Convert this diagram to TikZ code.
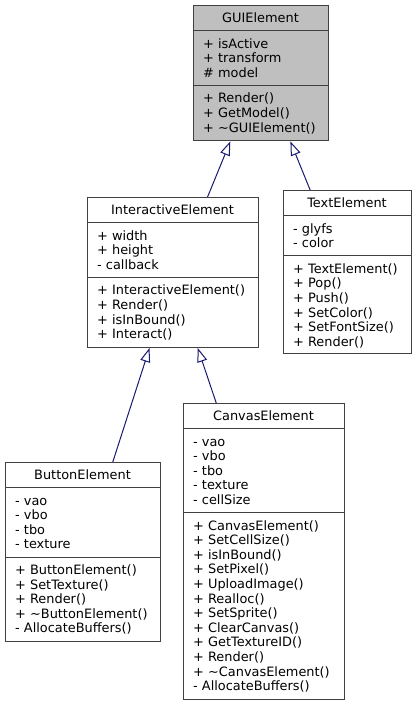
\documentclass[tikz,border=0pt]{standalone}
\usepackage{fontspec}
\setmainfont{DejaVu Sans}
\usetikzlibrary{arrows.meta,calc}
\definecolor{navyedge}{HTML}{191970}
\definecolor{hdrgray}{HTML}{BFBFBF}
\definecolor{boxline}{HTML}{404040}
\newcommand\umlln[4]{\node[ltext] (#1) at (#2,#3) {#4};}
\newcommand\umlttl[4]{\node[ttext] (#1) at (#2,#3) {#4};}
\begin{document}
\begin{tikzpicture}[x=1pt,y=-1pt,
  umlbox/.style={draw=boxline, line width=1.2pt, rectangle, inner sep=0pt, anchor=north west, fill=white},
  divider/.style={draw=boxline, line width=1pt},
  ltext/.style={anchor=base west, inner sep=0pt, font=\fontsize{12.9}{14.6}\selectfont},
  ttext/.style={anchor=base, inner sep=0pt, font=\fontsize{12.9}{14.6}\selectfont},
  inh/.style={draw=navyedge, line width=1pt, -{Triangle[open, fill=white, length=14pt, width=10pt]}}]
\useasboundingbox (0,0) rectangle (416,705);

% GUIElement
\node[umlbox, fill=hdrgray, minimum width=135pt, minimum height=135.2pt] (gui) at (193,5) {};
\draw[divider] (193,30.6) -- (328,30.6);
\draw[divider] (193,85.4) -- (328,85.4);
\umlttl{guiT}{260.5}{22.4}{GUIElement}
\umlln{guiA1}{203}{48.0}{+ isActive}
\umlln{guiA2}{203}{62.6}{+ transform}
\umlln{guiA3}{203}{77.2}{\# model}
\umlln{guiM1}{203}{102.8}{+ Render()}
\umlln{guiM2}{203}{117.4}{+ GetModel()}
\umlln{guiM3}{203}{132.0}{+ \textasciitilde GUIElement()}

% InteractiveElement
\node[umlbox, minimum width=171pt, minimum height=149.8pt] (ie) at (87,197) {};
\draw[divider] (87,222.6) -- (258,222.6);
\draw[divider] (87,277.4) -- (258,277.4);
\umlttl{ieT}{172.5}{214.4}{InteractiveElement}
\umlln{ieA1}{97}{240.0}{+ width}
\umlln{ieA2}{97}{254.6}{+ height}
\umlln{ieA3}{97}{269.2}{- callback}
\umlln{ieM1}{97}{294.8}{+ InteractiveElement()}
\umlln{ieM2}{97}{309.4}{+ Render()}
\umlln{ieM3}{97}{324.0}{+ isInBound()}
\umlln{ieM4}{97}{338.6}{+ Interact()}

% TextElement
\node[umlbox, minimum width=128pt, minimum height=163pt] (te) at (283,190) {};
\draw[divider] (283,215.6) -- (411,215.6);
\draw[divider] (283,255.8) -- (411,255.8);
\umlttl{teT}{347}{207.4}{TextElement}
\umlln{teA1}{293}{233.0}{- glyfs}
\umlln{teA2}{293}{247.6}{- color}
\umlln{teM1}{293}{273.2}{+ TextElement()}
\umlln{teM2}{293}{287.8}{+ Pop()}
\umlln{teM3}{293}{302.4}{+ Push()}
\umlln{teM4}{293}{317.0}{+ SetColor()}
\umlln{teM5}{293}{331.6}{+ SetFontSize()}
\umlln{teM6}{293}{346.2}{+ Render()}

% ButtonElement
\node[umlbox, minimum width=155pt, minimum height=179pt] (be) at (5,462) {};
\draw[divider] (5,487.6) -- (160,487.6);
\draw[divider] (5,557.0) -- (160,557.0);
\umlttl{beT}{82.5}{479.4}{ButtonElement}
\umlln{beA1}{15}{505.0}{- vao}
\umlln{beA2}{15}{519.6}{- vbo}
\umlln{beA3}{15}{534.2}{- tbo}
\umlln{beA4}{15}{548.8}{- texture}
\umlln{beM1}{15}{574.4}{+ ButtonElement()}
\umlln{beM2}{15}{589.0}{+ SetTexture()}
\umlln{beM3}{15}{603.6}{+ Render()}
\umlln{beM4}{15}{618.2}{+ \textasciitilde ButtonElement()}
\umlln{beM5}{15}{632.8}{- AllocateBuffers()}

% CanvasElement
\node[umlbox, minimum width=161pt, minimum height=295.8pt] (ce) at (183,403) {};
\draw[divider] (183,428.6) -- (344,428.6);
\draw[divider] (183,512.6) -- (344,512.6);
\umlttl{ceT}{263.5}{420.4}{CanvasElement}
\umlln{ceA1}{193}{446.0}{- vao}
\umlln{ceA2}{193}{460.6}{- vbo}
\umlln{ceA3}{193}{475.2}{- tbo}
\umlln{ceA4}{193}{489.8}{- texture}
\umlln{ceA5}{193}{504.4}{- cellSize}
\umlln{ceM1}{193}{530.0}{+ CanvasElement()}
\umlln{ceM2}{193}{544.6}{+ SetCellSize()}
\umlln{ceM3}{193}{559.2}{+ isInBound()}
\umlln{ceM4}{193}{573.8}{+ SetPixel()}
\umlln{ceM5}{193}{588.4}{+ UploadImage()}
\umlln{ceM6}{193}{603.0}{+ Realloc()}
\umlln{ceM7}{193}{617.6}{+ SetSprite()}
\umlln{ceM8}{193}{632.2}{+ ClearCanvas()}
\umlln{ceM9}{193}{646.8}{+ GetTextureID()}
\umlln{ceM10}{193}{661.4}{+ Render()}
\umlln{ceM11}{193}{676.0}{+ \textasciitilde CanvasElement()}
\umlln{ceM12}{193}{690.6}{- AllocateBuffers()}

% inheritance edges
\draw[inh] ($(ie.north west)!0.70!(ie.north east)$) -- ($(gui.south west)!0.274!(gui.south east)$);
\draw[inh] ($(te.north west)!0.21!(te.north east)$) -- ($(gui.south west)!0.715!(gui.south east)$);
\draw[inh] ($(be.north west)!0.69!(be.north east)$) -- ($(ie.south west)!0.363!(ie.south east)$);
\draw[inh] ($(ce.north west)!0.205!(ce.north east)$) -- ($(ie.south west)!0.643!(ie.south east)$);
\end{tikzpicture}
\end{document}
